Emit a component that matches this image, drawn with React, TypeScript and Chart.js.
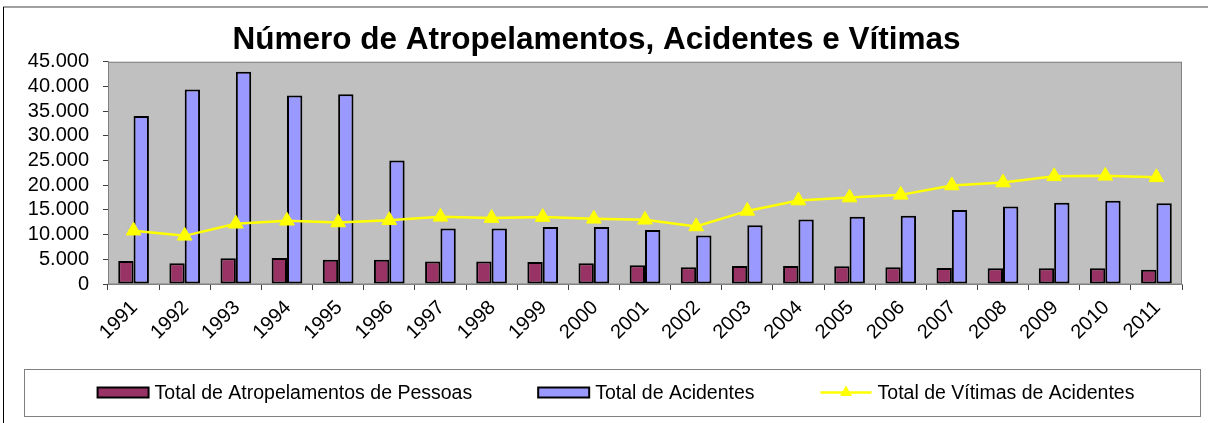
import React, { useEffect, useRef } from 'react';
import { Chart, registerables } from 'chart.js';

Chart.register(...registerables);

const years = ['1991', '1992', '1993', '1994', '1995', '1996', '1997', '1998', '1999', '2000', '2001', '2002', '2003', '2004', '2005', '2006', '2007', '2008', '2009', '2010', '2011'];
const atropelamentos = [4650, 4200, 5200, 5250, 4900, 4900, 4550, 4550, 4450, 4200, 3800, 3400, 3650, 3650, 3600, 3400, 3250, 3200, 3200, 3200, 2900];
const acidentes = [34000, 39400, 43000, 38200, 38450, 25000, 11250, 11250, 11550, 11550, 10950, 9800, 11900, 13050, 13600, 13800, 15000, 15700, 16450, 16850, 16350];
const vitimas = [10800, 9750, 12200, 12800, 12450, 12900, 13600, 13350, 13550, 13200, 13000, 11650, 14800, 16900, 17500, 18050, 19950, 20550, 21800, 21900, 21600];

const titleText = 'Número de Atropelamentos, Acidentes e Vítimas';
const labelAtrop = 'Total de Atropelamentos de Pessoas';
const labelAcid = 'Total de Acidentes';
const labelVit = 'Total de Vítimas de Acidentes';

const FONT = '"Liberation Sans", Arial, sans-serif';
const W = 1208;
const H = 423;

function fmt(v: number): string {
  return String(v).replace(/\B(?=(\d{3})+(?!\d))/g, '.');
}

const framePlugin = {
  id: 'framePlugin',
  beforeDraw(chart: any) {
    const { ctx, chartArea: a, width, height } = chart;
    ctx.save();
    ctx.fillStyle = '#ffffff';
    ctx.fillRect(0, 0, width, height);
    // outer frame
    ctx.strokeStyle = '#808080';
    ctx.lineWidth = 1.5;
    ctx.beginPath();
    ctx.moveTo(3, 7);
    ctx.lineTo(width, 7);
    ctx.stroke();
    ctx.strokeStyle = '#000000';
    ctx.lineWidth = 1;
    ctx.beginPath();
    ctx.moveTo(3.5, 7);
    ctx.lineTo(3.5, height);
    ctx.stroke();
    // plot area
    ctx.fillStyle = '#C0C0C0';
    ctx.fillRect(a.left, a.top, a.right - a.left, a.bottom - a.top);
    ctx.strokeStyle = '#808080';
    ctx.lineWidth = 1;
    ctx.strokeRect(a.left + 0.5, a.top + 0.5, a.right - a.left - 1, a.bottom - a.top - 0.5);
    ctx.restore();
  },
  afterDraw(chart: any) {
    const { ctx } = chart;
    const left = 24, right = 1201, top = 369, bottom = 417;
    ctx.save();
    ctx.fillStyle = '#ffffff';
    ctx.fillRect(left, top, right - left, bottom - top);
    ctx.strokeStyle = '#808080';
    ctx.lineWidth = 1;
    ctx.strokeRect(left + 0.5, top + 0.5, right - left - 1, bottom - top - 1);

    ctx.font = `19.5px ${FONT}`;
    const sw = 51, gap = 6, spacing = 66;
    const items = chart.data.datasets.map((ds: any) => ({
      label: ds.label as string,
      w: ctx.measureText(ds.label).width,
      type: ds.type,
      bg: ds.backgroundColor,
      border: ds.borderColor,
    }));
    const total = items.reduce((s: number, it: any) => s + sw + gap + it.w, 0) + spacing * (items.length - 1);
    const cx = 616;
    const cy = 392.5;
    let x = cx - total / 2;
    for (const it of items) {
      if (it.type === 'line') {
        ctx.strokeStyle = it.border;
        ctx.lineWidth = 2.5;
        ctx.beginPath();
        ctx.moveTo(x, cy);
        ctx.lineTo(x + sw, cy);
        ctx.stroke();
        const r = 7;
        const tx = x + sw / 2;
        ctx.fillStyle = it.bg;
        ctx.beginPath();
        ctx.moveTo(tx, cy - r);
        ctx.lineTo(tx + r * 0.866, cy + r * 0.5);
        ctx.lineTo(tx - r * 0.866, cy + r * 0.5);
        ctx.closePath();
        ctx.fill();
      } else {
        ctx.fillStyle = it.bg;
        ctx.fillRect(x, cy - 5, sw, 10);
        ctx.strokeStyle = '#000000';
        ctx.lineWidth = 2;
        ctx.strokeRect(x, cy - 5, sw, 10);
      }
      ctx.fillStyle = '#000000';
      ctx.textBaseline = 'middle';
      ctx.textAlign = 'left';
      ctx.fillText(it.label, x + sw + gap, cy + 1);
      x += sw + gap + it.w + spacing;
    }
    ctx.restore();
  },
};

export default function App() {
  const canvasRef = useRef<HTMLCanvasElement | null>(null);

  useEffect(() => {
    document.body.style.margin = '0';
    const canvas = canvasRef.current;
    if (!canvas) return;
    const chart = new Chart(canvas, {
      type: 'bar',
      data: {
        labels: years,
        datasets: [
          {
            type: 'bar',
            label: labelAtrop,
            data: atropelamentos,
            backgroundColor: '#993366',
            borderColor: '#000000',
            borderWidth: 2,
            borderSkipped: false,
            categoryPercentage: 0.6,
            barPercentage: 1.0,
            order: 1,
          },
          {
            type: 'bar',
            label: labelAcid,
            data: acidentes,
            backgroundColor: '#9999FF',
            borderColor: '#000000',
            borderWidth: 2,
            borderSkipped: false,
            categoryPercentage: 0.6,
            barPercentage: 1.0,
            order: 1,
          },
          {
            type: 'line',
            label: labelVit,
            data: vitimas,
            borderColor: '#FFFF00',
            backgroundColor: '#FFFF00',
            borderWidth: 2.5,
            tension: 0,
            pointStyle: 'triangle',
            pointRadius: 8.5,
            pointBorderWidth: 1,
            pointBackgroundColor: '#FFFF00',
            pointBorderColor: '#FFFF00',
            order: 0,
          },
        ] as any,
      },
      options: {
        animation: false,
        responsive: false,
        devicePixelRatio: 1,
        layout: { padding: { left: 11, right: 26, top: 0, bottom: 60 } },
        plugins: {
          legend: { display: false },
          tooltip: { enabled: false },
          title: {
            display: true,
            text: titleText,
            color: '#000000',
            font: { family: FONT, size: 31.5, weight: 'bold', lineHeight: 1.2 },
            padding: { top: 21, bottom: 3 },
          },
        },
        scales: {
          x: {
            type: 'category',
            offset: true,
            grid: { offset: true, drawOnChartArea: false, drawTicks: true, tickLength: 6, color: '#404040', lineWidth: 1 },
            border: { display: true, color: '#808080', width: 1 },
            ticks: {
              color: '#000000',
              font: { family: FONT, size: 20 },
              minRotation: 45,
              maxRotation: 45,
              padding: 6,
              autoSkip: false,
              labelOffset: 1,
            },
            afterFit: (s: any) => { s.height = 79; },
          },
          y: {
            min: 0,
            max: 45000,
            ticks: {
              stepSize: 5000,
              autoSkip: false,
              callback: (v: any) => fmt(Number(v)),
              color: '#000000',
              font: { family: FONT, size: 20, lineHeight: 1 },
              padding: 14,
            },
            grid: { drawOnChartArea: false, drawTicks: true, tickLength: 5, color: '#404040' },
            border: { display: true, color: '#808080', width: 1 },
            afterFit: (s: any) => { s.width = 97; },
          },
        },
      } as any,
      plugins: [framePlugin],
    });
    return () => chart.destroy();
  }, []);

  return (
    <div style={{ position: 'absolute', left: 0, top: 0, width: W, height: H }}>
      <canvas ref={canvasRef} width={W} height={H} style={{ display: 'block', width: W, height: H }} />
    </div>
  );
}
